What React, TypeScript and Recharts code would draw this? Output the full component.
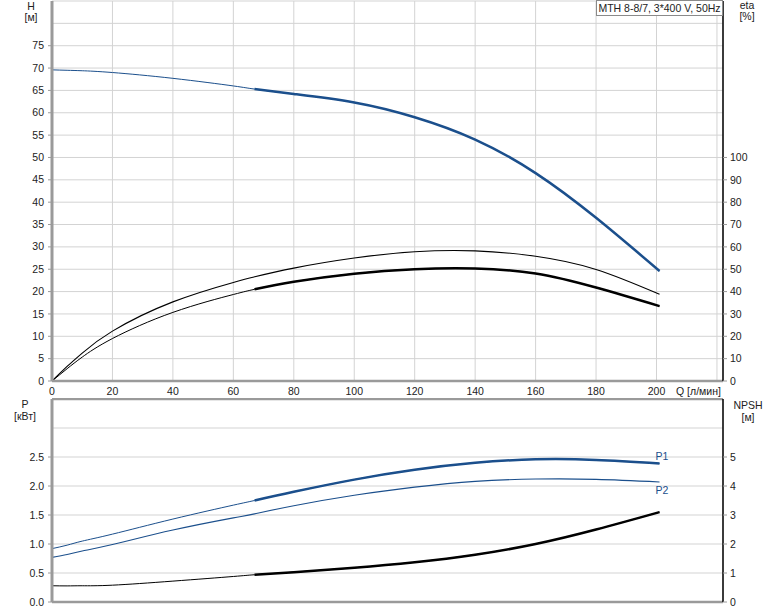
import { LineChart, Line, XAxis, YAxis, CartesianGrid, ReferenceLine } from "recharts";

// flow points [л/мин] shared by every curve
const qValues = [0, 5, 10, 20, 40, 60, 67, 80, 100, 120, 140, 160, 180, 201];
const headValues = [69.6, 69.5, 69.4, 69.0, 67.7, 66.0, 65.3, 64.2, 62.3, 59.0, 54.0, 46.5, 36.5, 24.6];
const etaPumpValues = [0, 6.5, 12.5, 22.3, 35.4, 44.1, 46.6, 50.5, 55.0, 57.8, 58.2, 55.8, 49.9, 38.8];
const etaTotalValues = [0, 5.5, 10.7, 19.0, 30.7, 38.7, 41.0, 44.4, 48.0, 50.0, 50.3, 48.1, 41.8, 33.5];
const p1Values = [0.92, 0.98, 1.05, 1.17, 1.43, 1.67, 1.75, 1.9, 2.11, 2.28, 2.4, 2.46, 2.45, 2.39];
const p2Values = [0.77, 0.82, 0.88, 0.99, 1.24, 1.45, 1.52, 1.66, 1.84, 1.98, 2.08, 2.12, 2.115, 2.07];
const npshValues = [0.56, 0.555, 0.56, 0.58, 0.72, 0.88, 0.94, 1.03, 1.18, 1.37, 1.63, 2.0, 2.5, 3.1];

const dutyStart = 67;

const qTicks = [0, 20, 40, 60, 80, 100, 120, 140, 160, 180, 200, 220];
const hTicks = [0, 5, 10, 15, 20, 25, 30, 35, 40, 45, 50, 55, 60, 65, 70, 75, 80, 85];
const etaTicks = [0, 10, 20, 30, 40, 50, 60, 70, 80, 90, 100];
const pTicks = [0, 0.5, 1, 1.5, 2, 2.5, 3, 3.5];
const npshTicks = [0, 1, 2, 3, 4, 5];

const rows = qValues.map((q, i) => {
  const bold = q >= dutyStart;
  return {
    q,
    h: headValues[i],
    hBold: bold ? headValues[i] : null,
    etaPump: etaPumpValues[i],
    etaTotal: etaTotalValues[i],
    etaTotalBold: bold ? etaTotalValues[i] : null,
    p1: p1Values[i],
    p1Bold: bold ? p1Values[i] : null,
    p2: p2Values[i],
    npsh: npshValues[i],
    npshBold: bold ? npshValues[i] : null,
  };
});

const FONT = '"Liberation Sans", Arial, sans-serif';
const BLUE = "#1b4f8c";
const GRID = "#d3d3d3";
const AXIS_GRAY = "#9a9a9a";
const TEXT = "#222";

const LeftTick = (props: any) => {
  const { x, y, payload, max, fmt } = props;
  if (payload.value > max) return <g />;
  return (
    <g>
      <line x1={x + 4} x2={x + 8} y1={y} y2={y} stroke={AXIS_GRAY} />
      <text x={x} y={y} dy={3.6} textAnchor="end" fontSize={10.5} fontFamily={FONT} fill={TEXT}>
        {fmt ? fmt(payload.value) : payload.value}
      </text>
    </g>
  );
};

const tickStyle = { fontSize: 10.5, fontFamily: FONT, fill: TEXT };

export default function App() {
  return (
    <div style={{ position: "absolute", left: 0, top: 0, width: 774, height: 611, background: "#fff", fontFamily: FONT }}>
      <div style={{ position: "absolute", left: 0, top: 0 }}>
        <LineChart width={774} height={400} data={rows} margin={{ top: 1, right: 0, bottom: 0, left: 0 }}>
          <CartesianGrid yAxisId="h" stroke={GRID} />
          <XAxis
            dataKey="q"
            type="number"
            domain={[0, 222]}
            ticks={qTicks}
            allowDataOverflow
            height={19}
            tickLine={false}
            tickSize={4}
            tickMargin={3}
            tick={tickStyle}
            tickFormatter={(v: number) => (v === 220 ? "" : String(v))}
            axisLine={{ stroke: AXIS_GRAY, strokeWidth: 2.5 }}
          />
          <YAxis
            yAxisId="h"
            orientation="left"
            width={52}
            domain={[0, 85]}
            ticks={hTicks}
            interval={0}
            tickLine={false}
            tickSize={4}
            tickMargin={4}
            tick={(p: any) => <LeftTick {...p} max={75} />}
            axisLine={{ stroke: AXIS_GRAY, strokeWidth: 3 }}
          />
          <YAxis
            yAxisId="eta"
            orientation="right"
            width={51}
            domain={[0, 170]}
            ticks={etaTicks}
            interval={0}
            tickSize={4}
            tickMargin={3}
            tick={tickStyle}
            tickLine={{ stroke: AXIS_GRAY }}
            axisLine={{ stroke: "#000", strokeWidth: 1.5 }}
          />
          <Line yAxisId="h" dataKey="h" type="natural" stroke={BLUE} strokeWidth={1} dot={false} isAnimationActive={false} />
          <Line yAxisId="h" dataKey="hBold" type="natural" stroke={BLUE} strokeWidth={2.5} dot={false} isAnimationActive={false} />
          <Line yAxisId="eta" dataKey="etaPump" type="natural" stroke="#000" strokeWidth={1.1} dot={false} isAnimationActive={false} />
          <Line yAxisId="eta" dataKey="etaTotal" type="natural" stroke="#000" strokeWidth={1} dot={false} isAnimationActive={false} />
          <Line yAxisId="eta" dataKey="etaTotalBold" type="natural" stroke="#000" strokeWidth={2.5} dot={false} isAnimationActive={false} />
        </LineChart>
      </div>

      <div style={{ position: "absolute", left: 0, top: 398 }}>
        <LineChart width={774} height={213} data={rows} margin={{ top: 1, right: 0, bottom: 0, left: 0 }}>
          <CartesianGrid yAxisId="p" stroke={GRID} />
          <XAxis
            dataKey="q"
            type="number"
            domain={[0, 222]}
            ticks={qTicks}
            allowDataOverflow
            height={9}
            tick={false}
            tickLine={false}
            axisLine={{ stroke: AXIS_GRAY, strokeWidth: 2.5 }}
          />
          <YAxis
            yAxisId="p"
            orientation="left"
            width={52}
            domain={[0, 3.5]}
            ticks={pTicks}
            interval={0}
            tickLine={false}
            tickSize={4}
            tickMargin={4}
            tick={(p: any) => <LeftTick {...p} max={2.5} fmt={(v: number) => v.toFixed(1)} />}
            axisLine={{ stroke: AXIS_GRAY, strokeWidth: 3 }}
          />
          <YAxis
            yAxisId="npsh"
            orientation="right"
            width={51}
            domain={[0, 7]}
            ticks={npshTicks}
            interval={0}
            tickSize={4}
            tickMargin={3}
            tick={tickStyle}
            tickLine={{ stroke: AXIS_GRAY }}
            axisLine={{ stroke: "#000", strokeWidth: 1.5 }}
          />
          <ReferenceLine yAxisId="p" y={3.5} stroke={AXIS_GRAY} strokeWidth={2.5} />
          <Line yAxisId="p" dataKey="p1" type="natural" stroke={BLUE} strokeWidth={1} dot={false} isAnimationActive={false} />
          <Line yAxisId="p" dataKey="p1Bold" type="natural" stroke={BLUE} strokeWidth={2.5} dot={false} isAnimationActive={false} />
          <Line yAxisId="p" dataKey="p2" type="natural" stroke={BLUE} strokeWidth={1.1} dot={false} isAnimationActive={false} />
          <Line yAxisId="npsh" dataKey="npsh" type="natural" stroke="#000" strokeWidth={1} dot={false} isAnimationActive={false} />
          <Line yAxisId="npsh" dataKey="npshBold" type="natural" stroke="#000" strokeWidth={2.5} dot={false} isAnimationActive={false} />
        </LineChart>
      </div>

      <svg width={774} height={611} style={{ position: "absolute", left: 0, top: 0, pointerEvents: "none" }}>
        <g fontFamily={FONT} fontSize={10.5} fill={TEXT}>
          <text x={31} y={10} textAnchor="middle">H</text>
          <text x={31} y={21} textAnchor="middle">[м]</text>
          <text x={747} y={9} textAnchor="middle">eta</text>
          <text x={747} y={20} textAnchor="middle">[%]</text>
          <text x={25} y={408} textAnchor="middle">P</text>
          <text x={25} y={420} textAnchor="middle">[кВт]</text>
          <text x={748} y={409} textAnchor="middle">NPSH</text>
          <text x={748} y={421} textAnchor="middle">[м]</text>
          <text x={676} y={395}>Q [л/мин]</text>
        </g>
        <text x={662} y={460} textAnchor="middle" fontFamily={FONT} fontSize={10.5} fill={BLUE}>P1</text>
        <text x={662} y={494} textAnchor="middle" fontFamily={FONT} fontSize={10.5} fill={BLUE}>P2</text>
        <rect x={596.5} y={0.5} width={126} height={15} fill="#fff" stroke="#8a8a8a" />
        <text x={659.5} y={11.5} textAnchor="middle" fontFamily={FONT} fontSize={10.5} fill={TEXT}>
          MTH 8-8/7, 3*400 V, 50Hz
        </text>
      </svg>
    </div>
  );
}
